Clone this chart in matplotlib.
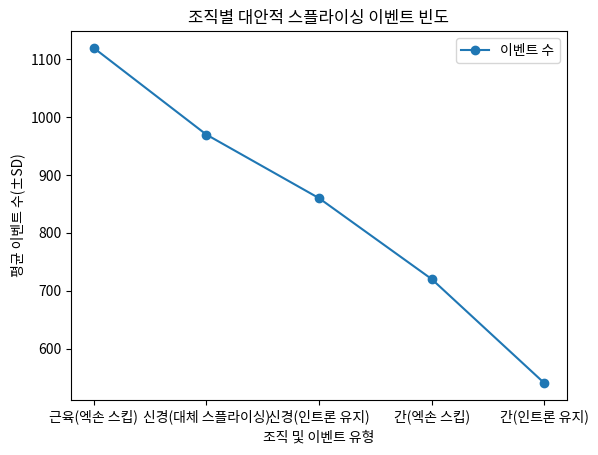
import matplotlib
matplotlib.use('Agg')
import matplotlib.pyplot as plt

plt.rcParams['font.family'] = ['Noto Sans CJK KR', 'DejaVu Sans']

categories = ['근육(엑손 스킵)', '신경(대체 스플라이싱)', '신경(인트론 유지)', '간(엑손 스킵)', '간(인트론 유지)']
event_counts = [1120, 970, 860, 720, 540]

fig = plt.figure(figsize=(5.98, 4.55), dpi=100)
ax = fig.add_axes([71 / 598, 1 - 400 / 455, (567 - 71) / 598, (400 - 31) / 455])

ax.plot(categories, event_counts, marker='o', label='이벤트 수')
ax.set_title('조직별 대안적 스플라이싱 이벤트 빈도')
ax.set_xlabel('조직 및 이벤트 유형')
ax.set_ylabel('평균 이벤트 수(±SD)')
ax.legend()

fig.savefig('out.png', dpi=100)
